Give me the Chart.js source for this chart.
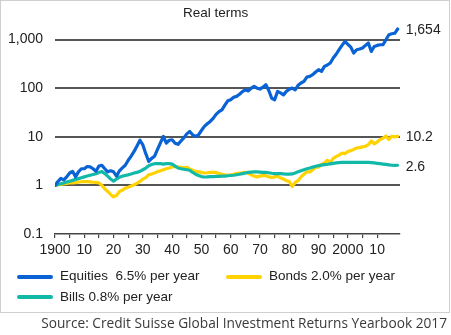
<!DOCTYPE html>
<html>
<head>
<meta charset="utf-8">
<script src="https://cdn.jsdelivr.net/npm/chart.js@4.4.1/dist/chart.umd.min.js"></script>
<style>
  html, body { margin: 0; padding: 0; background: #fff; }
  body { width: 451px; height: 335px; position: relative; overflow: hidden; font-family: "Liberation Sans", Arial, sans-serif; color: #222; }
  #box { position: absolute; left: 0; top: 0; width: 448px; height: 311px; border: 1px solid #cfcfcf; }
  #c { position: absolute; left: 0; top: 0; }
  .t { position: absolute; white-space: pre; font-size: 13.5px; line-height: 16px; color: #222; }
  .sw { position: absolute; height: 4px; border-radius: 2px; }
  #src { position: absolute; right: 4px; top: 314px; font-family: "Open Sans", sans-serif; font-size: 13.7px; line-height: 18px; color: #3a3a3a; white-space: nowrap; }
</style>
</head>
<body>
<div id="box"></div>
<canvas id="c" width="451" height="313"></canvas>
<div class="t" id="title" style="left:183px; top:5px;">Real terms</div>
<div class="sw" style="left:17px; top:275px; width:36px; background:#0A63D4;"></div>
<div class="t" style="left:60px; top:268px;">Equities  6.5% per year</div>
<div class="sw" style="left:226px; top:275px; width:36px; background:#FFD200;"></div>
<div class="t" style="left:269px; top:268px;">Bonds 2.0% per year</div>
<div class="sw" style="left:17px; top:295px; width:36px; background:#12B9A8;"></div>
<div class="t" style="left:60px; top:289px;">Bills 0.8% per year</div>
<div id="src">Source: Credit Suisse Global Investment Returns Yearbook 2017</div>
<script>
const years = [
  1900,1901,1902,1903,1904,1905,1906,1907,1908,1909,
  1910,1911,1912,1913,1914,1915,1916,1917,1918,1919,
  1920,1921,1922,1923,1924,1925,1926,1927,1928,1929,
  1930,1931,1932,1933,1934,1935,1936,1937,1938,1939,
  1940,1941,1942,1943,1944,1945,1946,1947,1948,1949,
  1950,1951,1952,1953,1954,1955,1956,1957,1958,1959,
  1960,1961,1962,1963,1964,1965,1966,1967,1968,1969,
  1970,1971,1972,1973,1974,1975,1976,1977,1978,1979,
  1980,1981,1982,1983,1984,1985,1986,1987,1988,1989,
  1990,1991,1992,1993,1994,1995,1996,1997,1998,1999,
  2000,2001,2002,2003,2004,2005,2006,2007,2008,2009,
  2010,2011,2012,2013,2014,2015,2016,2017
];
const equities = [
  1.0, 1.2, 1.4, 1.3, 1.5, 1.8, 1.95, 1.5, 1.9, 2.2,
  2.2, 2.45, 2.4, 2.2, 1.95, 2.5, 2.6, 2.2, 1.9, 2.0,
  1.9, 1.55, 2.0, 2.3, 2.6, 3.3, 4.0, 5.0, 6.5, 8.5,
  6.8, 4.5, 3.1, 3.6, 4.0, 5.5, 7.5, 10.2, 7.4, 8.5,
  8.7, 7.4, 7.0, 8.2, 9.5, 11.5, 12.9, 11, 10.2, 11,
  13.5, 16.4, 18.5, 20.7, 24, 29, 33, 36, 45, 55,
  58, 65, 68, 75, 85, 93, 88, 100, 109, 100,
  96, 105, 118, 90, 62, 58, 86, 80, 73, 86,
  95, 101, 93, 115, 128, 138, 170, 175, 190, 215,
  240, 222, 281, 300, 330, 420, 500, 620, 760, 918,
  800, 700, 530, 620, 640, 671, 760, 851, 572, 724,
  760, 785, 785, 995, 1260, 1320, 1350, 1654
];
const bonds = [
  1.0, 1.03, 1.05, 1.07, 1.1, 1.12, 1.13, 1.14, 1.17, 1.19,
  1.2, 1.2, 1.18, 1.16, 1.15, 1.13, 1.0, 0.85, 0.75, 0.65,
  0.58, 0.62, 0.75, 0.8, 0.88, 0.92, 0.97, 1.03, 1.1, 1.21,
  1.35, 1.45, 1.66, 1.72, 1.8, 1.92, 2.0, 2.1, 2.2, 2.28,
  2.4, 2.46, 2.4, 2.35, 2.3, 2.35, 2.17, 2.05, 1.94, 1.9,
  1.85, 1.8, 1.82, 1.85, 1.85, 1.85, 1.75, 1.7, 1.65, 1.62,
  1.65, 1.7, 1.75, 1.8, 1.82, 1.85, 1.78, 1.65, 1.55, 1.5,
  1.55, 1.6, 1.58, 1.5, 1.45, 1.5, 1.55, 1.42, 1.35, 1.25,
  1.2, 0.95, 1.15, 1.25, 1.5, 1.7, 1.9, 1.9, 2.1, 2.35,
  2.4, 2.7, 2.9, 3.3, 3.0, 3.6, 3.9, 4.2, 4.6, 4.5,
  5.0, 5.2, 5.5, 5.9, 6.0, 6.2, 6.4, 6.9, 8.2, 7.2,
  7.8, 8.8, 9.3, 10.4, 8.8, 10.3, 10.0, 10.2
];
const bills = [
  1.0, 1.04, 1.08, 1.12, 1.17, 1.22, 1.27, 1.33, 1.38, 1.44,
  1.5, 1.56, 1.62, 1.68, 1.74, 1.85, 1.94, 1.75, 1.55, 1.35,
  1.22, 1.35, 1.48, 1.55, 1.6, 1.65, 1.72, 1.8, 1.85, 1.95,
  2.1, 2.28, 2.55, 2.7, 2.8, 2.8, 2.8, 2.75, 2.8, 2.8,
  2.75, 2.5, 2.28, 2.2, 2.15, 2.1, 2.05, 1.85, 1.7, 1.6,
  1.52, 1.49, 1.5, 1.52, 1.52, 1.53, 1.53, 1.55, 1.55, 1.58,
  1.6, 1.62, 1.66, 1.7, 1.75, 1.8, 1.85, 1.88, 1.9, 1.9,
  1.88, 1.85, 1.85, 1.82, 1.78, 1.75, 1.75, 1.75, 1.72, 1.7,
  1.7, 1.72, 1.8, 1.9, 2.0, 2.1, 2.2, 2.28, 2.38, 2.48,
  2.55, 2.62, 2.67, 2.72, 2.78, 2.85, 2.9, 2.95, 2.97, 2.98,
  2.98, 2.98, 2.97, 2.97, 2.97, 2.97, 2.97, 2.97, 2.95, 2.9,
  2.85, 2.8, 2.75, 2.7, 2.65, 2.6, 2.58, 2.6
];
const equitiesEnd = '1,654';
const bondsEnd = '10.2';
const billsEnd = '2.6';
const yTicks = [0.1, 1, 10, 100, 1000];
const yTickText = ['0.1', '1', '10', '100', '1,000'];
const xLabelYears = [1900, 1910, 1920, 1930, 1940, 1950, 1960, 1970, 1980, 1990, 2000, 2010];
const xLabelText = ['1900', '10', '20', '30', '40', '50', '60', '70', '80', '90', '2000', '10'];

const toPts = arr => years.map((yr, i) => ({ x: yr, y: arr[i] }));
const FONT = { family: "'Liberation Sans', Arial, sans-serif", size: 14 };

const endLabelPlugin = {
  id: 'endLabels',
  afterDatasetsDraw(chart) {
    const c = chart.ctx;
    c.save();
    c.font = "14px 'Liberation Sans', Arial, sans-serif";
    c.fillStyle = '#222';
    c.textBaseline = 'middle';
    c.textAlign = 'left';
    chart.data.datasets.forEach((ds, i) => {
      const meta = chart.getDatasetMeta(i);
      const p = meta.data[meta.data.length - 1];
      c.fillText(ds.endLabel, p.x + 8, p.y + ds.labelDy);
    });
    c.restore();
  }
};

new Chart(document.getElementById('c'), {
  type: 'line',
  data: {
    datasets: [
      { label: 'Equities', data: toPts(equities), borderColor: '#0A63D4', borderWidth: 3.2, endLabel: equitiesEnd, labelDy: 1 },
      { label: 'Bills', data: toPts(bills), borderColor: '#12B9A8', borderWidth: 3.2, endLabel: billsEnd, labelDy: 2 },
      { label: 'Bonds', data: toPts(bonds), borderColor: '#FFD200', borderWidth: 3.2, endLabel: bondsEnd, labelDy: 1 }
    ]
  },
  options: {
    responsive: false,
    animation: false,
    events: [],
    elements: {
      point: { radius: 0 },
      line: { tension: 0, borderCapStyle: 'round', borderJoinStyle: 'round', fill: false }
    },
    layout: { padding: { top: 25, right: 51, left: 0, bottom: 0 } },
    plugins: { legend: { display: false }, tooltip: { enabled: false }, title: { display: false } },
    scales: {
      x: {
        type: 'linear', min: 1900, max: 2017.8,
        ticks: {
          stepSize: 5, autoSkip: false, maxRotation: 0, minRotation: 0, padding: 4,
          color: '#222', font: FONT,
          callback: v => { const k = xLabelYears.indexOf(v); return k >= 0 ? xLabelText[k] : ''; }
        },
        afterBuildTicks: s => { s.ticks = s.ticks.filter(t => Math.abs(t.value % 5) < 1e-9); },
        grid: { drawOnChartArea: false, drawTicks: true, tickLength: 4, color: '#444', lineWidth: 1.2 },
        border: { display: true, color: '#444', width: 1.5 },
        afterFit: s => { s.height = 79; }
      },
      y: {
        type: 'logarithmic', min: 0.1, max: 2000,
        afterBuildTicks: s => { s.ticks = yTicks.map(v => ({ value: v })); },
        ticks: {
          padding: 12, color: '#222', font: FONT,
          callback: v => { const k = yTicks.indexOf(v); return k >= 0 ? yTickText[k] : ''; }
        },
        grid: {
          drawTicks: false, lineWidth: 2,
          color: ctx => (ctx.tick && ctx.tick.value === 0.1) ? 'rgba(0,0,0,0)' : '#555'
        },
        border: { display: false },
        afterFit: s => { s.width = 55; }
      }
    }
  },
  plugins: [endLabelPlugin]
});
</script>
</body>
</html>
